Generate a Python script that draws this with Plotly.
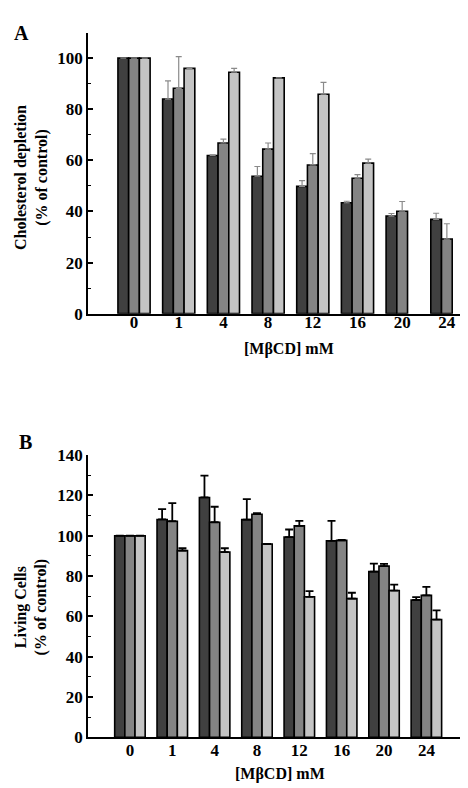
import plotly.graph_objects as go

cats = ["0", "1", "4", "8", "12", "16", "20", "24"]

# Panel A: cholesterol depletion (% of control)
A_dark = [100, 84.0, 61.9, 53.8, 49.8, 43.4, 38.2, 36.9]
A_dark_err = [0, 7.1, 0.3, 3.8, 2.3, 0.6, 1.0, 2.4]
A_mid = [100, 88.2, 66.8, 64.4, 58.2, 53.0, 40.1, 29.2]
A_mid_err = [0, 12.4, 1.5, 2.4, 4.4, 1.4, 3.8, 6.0]
A_light = [100, 96.0, 94.5, 92.3, 85.9, 58.9, None, None]
A_light_err = [0, 0, 1.5, 0, 4.6, 1.6, 0, 0]

# Panel B: living cells (% of control)
B_dark = [100, 108.1, 119.0, 108.0, 99.3, 97.5, 82.2, 68.1]
B_dark_err = [0, 5.1, 10.8, 10.2, 3.8, 9.9, 4.0, 1.4]
B_mid = [100, 107.2, 106.7, 110.7, 104.9, 97.7, 84.9, 70.4]
B_mid_err = [0, 9.0, 7.7, 0.5, 2.5, 0.3, 1.1, 4.2]
B_light = [100, 92.6, 91.9, 95.9, 69.7, 68.8, 72.8, 58.4]
B_light_err = [0, 1.2, 1.9, 0, 2.8, 2.9, 2.9, 4.6]

colors = ["#404040", "#848484", "#c4c4c4"]
xidx = list(range(len(cats)))
FONT = "Liberation Serif"

fig = go.Figure()

def add_bars(vals_list, errs_list, xa, ya, ecolor, ethick, ewidth):
    for vals, errs, c in zip(vals_list, errs_list, colors):
        fig.add_trace(go.Bar(
            x=xidx, y=vals, xaxis=xa, yaxis=ya,
            marker=dict(color=c, line=dict(color="black", width=1.6)),
            error_y=dict(type="data", array=errs, arrayminus=[0] * len(errs),
                         symmetric=False, color=ecolor, thickness=ethick, width=ewidth),
            showlegend=False, hoverinfo="skip",
            offsetgroup=c,
        ))

add_bars([A_dark, A_mid, A_light], [A_dark_err, A_mid_err, A_light_err], "x", "y", "#8a8a8a", 1.2, 3)
add_bars([B_dark, B_mid, B_light], [B_dark_err, B_mid_err, B_light_err], "x2", "y2", "black", 1.8, 4)

xcommon = dict(tickvals=xidx, ticktext=cats, showline=True, linecolor="black", linewidth=1.6,
               ticks="", showgrid=False, zeroline=False,
               tickfont=dict(family=FONT, size=17, color="black", weight="bold"))
ycommon = dict(showline=True, linecolor="black", linewidth=1.6, ticks="inside", ticklen=5,
               tickwidth=1.6, tickcolor="black", dtick=20, showgrid=False, zeroline=False,
               minor=dict(ticks="inside", ticklen=3, tickwidth=1.4, dtick=10, tickcolor="black"),
               tickfont=dict(family=FONT, size=17, color="black", weight="bold"))

fig.update_layout(
    width=468, height=788,
    margin=dict(l=0, r=0, t=0, b=0),
    paper_bgcolor="white", plot_bgcolor="white",
    barmode="group", bargap=0.28, bargroupgap=0,
    xaxis=dict(domain=[80 / 468, 463 / 468], range=[-1.03, 7.54], anchor="y",
               ticklabelstandoff=-8, **xcommon),
    yaxis=dict(domain=[1 - 304 / 788, 1 - 16 / 788], range=[0, 110], anchor="x", **ycommon),
    xaxis2=dict(domain=[80 / 468, 462 / 468], range=[-0.99, 8.03], anchor="y2",
                ticklabelstandoff=-3, **xcommon),
    yaxis2=dict(domain=[1 - 738 / 788, 1 - 449 / 788], range=[0, 140], anchor="x2", **ycommon),
)

def ann(text, x, y, size, angle=0):
    fig.add_annotation(text=text, x=x, y=y, xref="paper", yref="paper",
                       xanchor="center", yanchor="middle", showarrow=False, textangle=angle,
                       font=dict(family=FONT, size=size, color="black", weight="bold"))

ann("A", 13 / 468, 1 - 16 / 788, 20)
ann("B", 17 / 468, 1 - 435 / 788, 20)
ann("[MβCD] mM", 281 / 468, 1 - 340 / 788, 16)
ann("[MβCD] mM", 272 / 468, 1 - 776 / 788, 16)
ann("Cholesterol depletion<br>(% of control)", 23 / 468, 1 - 165 / 788, 16, -90)
ann("Living Cells<br>(% of control)", 23 / 468, 1 - 605 / 788, 16, -90)

fig.write_html("out.html")
